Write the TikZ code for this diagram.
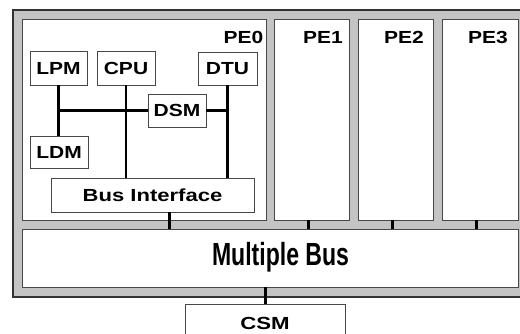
\documentclass[tikz,border=0pt]{standalone}
\usepackage{fontspec}
\setmainfont{Liberation Sans}
\usetikzlibrary{calc}
\newcommand\wlbl[2]{\scalebox{#1}[1]{\fontsize{17.5}{17.5}\selectfont\bfseries #2}}
\begin{document}
\begin{tikzpicture}[x=1pt,y=-1pt,
  box/.style={draw=black!72,line width=0.9pt,fill=white,inner sep=0pt,outer sep=0pt,rectangle},
  frame/.style={draw=black!80,line width=1.2pt,fill={rgb,255:red,196;green,196;blue,196},inner sep=0pt,outer sep=0pt,rectangle},
  conn/.style={line width=2.5pt,black},
  busconn/.style={line width=3pt,black},
  lbl/.style={inner sep=0pt,outer sep=0pt}]
\useasboundingbox (0,0) rectangle (520,333);
% outer frame
\node[frame,minimum width=511pt,minimum height=287pt] (frm) at (268.5,153.5) {};
% PEs
\node[box,minimum width=244pt,minimum height=201pt] (pe0) at (144,119.5) {};
\node[box,minimum width=75pt,minimum height=201pt] (pe1) at (311.5,119.5) {};
\node[box,minimum width=75pt,minimum height=201pt] (pe2) at (395.5,119.5) {};
\node[box,minimum width=76pt,minimum height=201pt] (pe3) at (480,119.5) {};
\node[lbl] (pe0l) at (243.5,37.5) {\wlbl{1.2}{PE0}};
\node[lbl] (pe1l) at (323,37.5) {\wlbl{1.2}{PE1}};
\node[lbl] (pe2l) at (404,37.5) {\wlbl{1.2}{PE2}};
\node[lbl] (pe3l) at (488,37.5) {\wlbl{1.2}{PE3}};
% bus
\node[box,minimum width=496pt,minimum height=58pt] (bus) at (270,258) {};
\node[lbl] (busl) at (280.5,257) {\scalebox{0.72}[1]{\fontsize{32}{32}\selectfont\bfseries Multiple Bus}};
% CSM
\node[box,minimum width=160pt,minimum height=39pt] (csm) at (265,323.5) {\wlbl{1.27}{CSM}};
% inner units
\node[box,minimum width=57pt,minimum height=34pt] (lpm) at (58.5,68) {\wlbl{1.2}{LPM}};
\node[box,minimum width=58pt,minimum height=34pt] (cpu) at (126,68) {\wlbl{1.2}{CPU}};
\node[box,minimum width=59pt,minimum height=33pt] (dtu) at (227.5,68.5) {\wlbl{1.2}{DTU}};
\node[box,minimum width=58pt,minimum height=33pt] (dsm) at (177,110.5) {\wlbl{1.2}{DSM}};
\node[box,minimum width=58pt,minimum height=32pt] (ldm) at (59,152) {\wlbl{1.2}{LDM}};
\node[box,minimum width=203pt,minimum height=34pt] (bi) at (152.5,195) {\wlbl{1.26}{Bus Interface}};
% connectors inside PE0
\draw[conn] (lpm.south) -- (lpm.south |- ldm.north);
\draw[conn] (dsm.west) -- (dsm.west -| lpm.south);
\draw[conn] (dsm.east) -- (dsm.east -| dtu.south);
\draw[conn] (cpu.south) -- (cpu.south |- bi.north);
\draw[conn] (dtu.south) -- (dtu.south |- bi.north);
% connectors to bus
\coordinate (bip) at ([xshift=16.5pt]bi.south);
\coordinate (p1) at ([xshift=-3.5pt]pe1.south);
\coordinate (p2) at ([xshift=-3.5pt]pe2.south);
\coordinate (p3) at ([xshift=-4pt]pe3.south);
\draw[busconn] (bip) -- (bip |- bus.north);
\draw[busconn] (p1) -- (p1 |- bus.north);
\draw[busconn] (p2) -- (p2 |- bus.north);
\draw[busconn] (p3) -- (p3 |- bus.north);
\draw[busconn] (csm.north) -- (csm.north |- bus.south);
\end{tikzpicture}
\end{document}
